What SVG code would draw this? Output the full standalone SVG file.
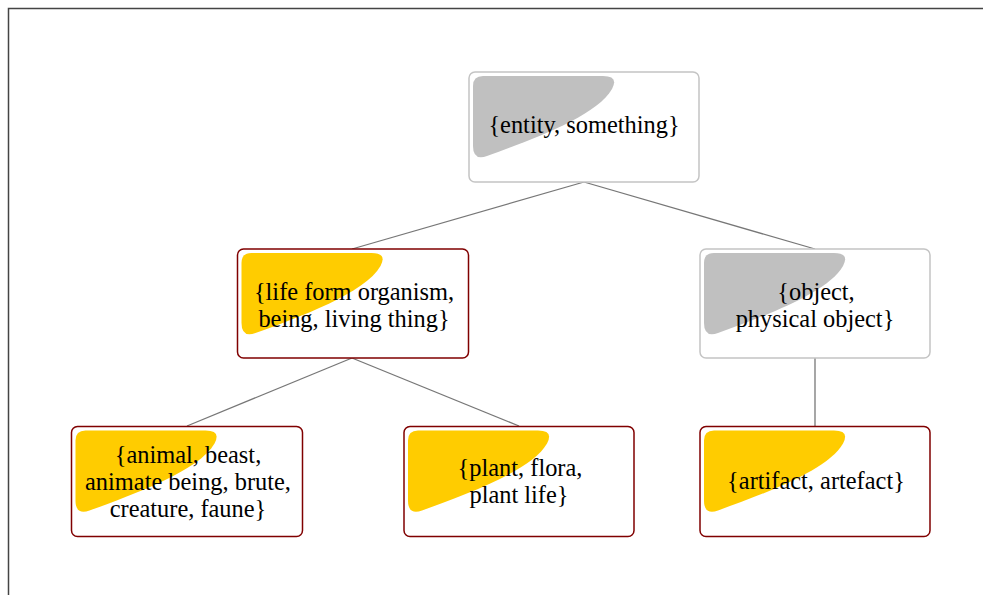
<svg xmlns="http://www.w3.org/2000/svg" width="983" height="595" viewBox="0 0 983 595">
  <defs>
    <style>
      .frame { fill: none; stroke: #444; stroke-width: 1.5; }
      .edge { stroke: #777; stroke-width: 1.3; fill: none; }
      .box { fill: #fff; stroke-width: 1.5; }
      .box.grey { stroke: #c4c4c4; }
      .box.red { stroke: #800000; }
      .blob.grey { fill: #c0c0c0; }
      .blob.yellow { fill: #ffcc00; }
      .label { font-family: "Liberation Serif", "Times New Roman", serif; font-size: 24.4px; fill: #000; text-anchor: middle; }
    </style>
    <!-- corner tag shape, drawn relative to a node's top-left corner -->
    <path id="tag" d="M 14,4 L 134,4 Q 150,4 143,17 C 128,44 62,68 18,84 Q 4,89 4,74 L 4,14 Q 4,4 14,4 Z"/>
  </defs>

  <rect width="983" height="595" fill="#fff"/>
  <path class="frame" d="M 8.5,595 L 8.5,8.5 L 983,8.5"/>

  <g id="connectors">
    <line class="edge" x1="584" y1="182" x2="352" y2="249"/>
    <line class="edge" x1="584" y1="182" x2="815" y2="249"/>
    <line class="edge" x1="352" y1="358" x2="187" y2="426"/>
    <line class="edge" x1="352" y1="358" x2="519" y2="426"/>
    <line class="edge" x1="815" y1="358" x2="815" y2="426"/>
  </g>

  <g id="entity">
    <rect class="box grey" x="469" y="72" width="230" height="110" rx="6"/>
    <use href="#tag" class="blob grey" x="469" y="72"/>
    <text class="label" x="584" y="133">{entity, something}</text>
  </g>

  <g id="life-form">
    <rect class="box red" x="237.5" y="249" width="231" height="109" rx="6"/>
    <use href="#tag" class="blob yellow" x="237.5" y="249"/>
    <text class="label" x="354" y="300">{life form organism,</text>
    <text class="label" x="354" y="327">being, living thing}</text>
  </g>

  <g id="object">
    <rect class="box grey" x="700" y="249" width="230" height="109" rx="6"/>
    <use href="#tag" class="blob grey" x="700" y="249"/>
    <text class="label" x="816" y="300">{object,</text>
    <text class="label" x="815" y="327">physical object}</text>
  </g>

  <g id="animal">
    <rect class="box red" x="71.5" y="426.5" width="231" height="110" rx="6"/>
    <use href="#tag" class="blob yellow" x="71.5" y="426.5"/>
    <text class="label" x="188" y="463">{animal, beast,</text>
    <text class="label" x="188" y="490">animate being, brute,</text>
    <text class="label" x="188" y="517">creature, faune}</text>
  </g>

  <g id="plant">
    <rect class="box red" x="404" y="426.5" width="230" height="110" rx="6"/>
    <use href="#tag" class="blob yellow" x="404" y="426.5"/>
    <text class="label" x="520" y="476">{plant, flora,</text>
    <text class="label" x="519" y="503">plant life}</text>
  </g>

  <g id="artifact">
    <rect class="box red" x="700" y="426.5" width="230" height="110" rx="6"/>
    <use href="#tag" class="blob yellow" x="700" y="426.5"/>
    <text class="label" x="816" y="489">{artifact, artefact}</text>
  </g>
</svg>
